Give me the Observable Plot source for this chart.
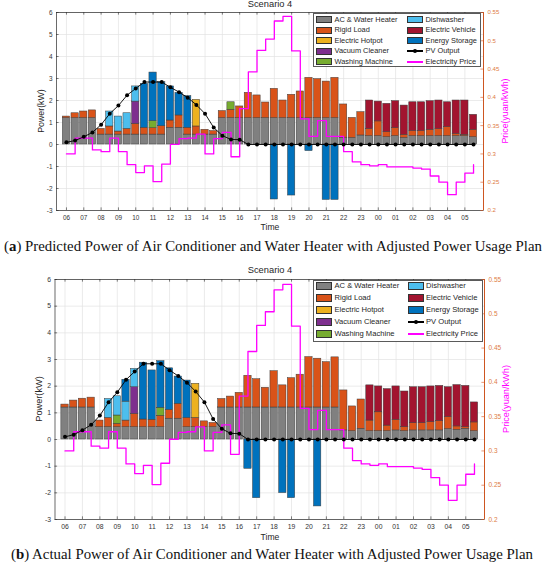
<!DOCTYPE html>
<html><head><meta charset="utf-8">
<script src="https://cdn.jsdelivr.net/npm/d3@7"></script>
<script src="https://cdn.jsdelivr.net/npm/@observablehq/plot@0.6"></script>
<style>
body{margin:0;background:#fff;}
#wrap{position:relative;width:550px;height:568px;overflow:hidden;background:#fff;font-family:"Liberation Sans",Arial,sans-serif;color:#262626;}
#wrap svg{position:absolute;left:0;overflow:visible;}
.t{position:absolute;white-space:nowrap;line-height:1;}
.cap{position:absolute;white-space:nowrap;line-height:1;font-family:"Liberation Serif","Times New Roman",serif;color:#111;}
</style></head><body><div id="wrap"></div>
<script>
// ---------- data ----------
const hours = ["06","07","08","09","10","11","12","13","14","15","16","17","18","19","20","21","22","23","00","01","02","03","04","05"];
const seriesNames = ["AC & Water Heater","Rigid Load","Electric Hotpot","Vacuum Cleaner","Washing Machine","Dishwasher","Electric Vehicle","Energy Storage"];
const seriesColors = ["#808080","#D95319","#EDB120","#7E2F8E","#77AC30","#4DBEEE","#A2142F","#0072BD"];
const priceTicks = [0.2,0.25,0.3,0.35,0.4,0.45,0.5,0.55];
const powerTicks = [-3,-2,-1,0,1,2,3,4,5,6];

const pvOutput = [0.10,0.18,0.35,0.55,0.90,1.40,1.77,2.24,2.55,2.84,2.84,2.84,
  2.60,2.38,2.13,1.80,1.40,0.77,0.40,0.23,0.22,0,0,0,
  0,0,0,0,0,0,0,0,0,0,0,0,
  0,0,0,0,0,0,0,0,0,0,0,0];
const price = [0.300,0.328,0.328,0.307,0.304,0.328,0.304,0.281,0.267,0.279,0.251,0.282,
  0.317,0.327,0.328,0.335,0.300,0.327,0.338,0.295,0.380,0.445,0.483,0.503,
  0.535,0.543,0.482,0.362,0.331,0.359,0.331,0.331,0.304,0.286,0.281,0.279,
  0.281,0.277,0.277,0.277,0.275,0.273,0.261,0.250,0.228,0.250,0.266,0.281];

// Panel (a) predicted
const acA = [1.2,1.2,1.2,1.2,0.45,0.45,0.45,0.45,0.45,0.45,0.45,0.45,
  0.76,0.76,0.45,0.45,0.45,0.45,1.2,1.2,1.2,1.2,1.2,1.2,
  1.2,1.2,1.2,1.2,1.2,1.2,1.2,1.2,0.30,0.30,0.41,0.38,
  0.38,0.33,0.38,0.30,0.38,0.38,0.38,0.38,0.38,0.38,0.38,0.33];
const rigidA = [0.07,0.22,0.30,0.35,0.26,0.37,0.14,0.26,0.49,0.31,0.29,0.38,
  0.33,0.56,0.31,0.37,0.22,0.16,0.32,0.38,0.53,1.15,1.03,0.71,
  1.33,0.80,1.06,1.21,1.83,1.77,1.66,1.83,1.52,0.91,1.06,0.33,
  0.67,0.23,0.36,0.14,0.23,0.23,0.29,0.32,0.41,0.10,0.06,0.34];
const hotpotA = [0,0,0,0,0,0,0,0,0,0,0,0,
  0,0,0,1.21,0,0,0,0,0,0,0,0,
  0,0,0,0,0,0,0,0,0,0,0,0,
  0,0,0,0,0,0,0,0,0,0,0,0];
const vacuumA = [0,0,0,0,0,0,0,0,1.01,0,0,0,
  0,0,0,0,0,0,0,0,0,0,0,0,
  0,0,0,0,0,0,0,0,0,0,0,0,
  0,0,0,0,0,0,0,0,0,0,0,0];
const washingA = [0,0,0,0,0,0,0,0,0,0,0.32,0,
  0,0,0,0,0,0,0,0.34,0,0,0,0,
  0,0,0,0,0,0,0,0,0,0,0,0,
  0,0,0,0,0,0,0,0,0,0,0,0];
const dishA = [0,0,0,0,0,0.68,0.68,0.71,0.69,0,0,0,
  0,0,0,0,0,0,0,0,0,0,0,0,
  0,0,0,0,0,0,0,0,0,0,0,0,
  0,0,0,0,0,0,0,0,0,0,0,0];
const evA = [0,0,0,0,0,0,0,0,0,0,0,0,
  0,0,0,0,0,0,0,0,0,0,0,0,
  0,0,0,0,0,0,0,0,0,0,0,1.29,
  0.90,1.29,1.23,1.33,1.31,1.31,1.30,1.30,1.13,1.52,1.56,0.68];
const storageA = [0,0,0,0,0,0,0,0,0,2.00,2.21,2.00,
  1.55,1.03,1.44,0,0,0,0,0,0,0,0,0,
  -2.50,0,-2.32,0,-0.30,0,-2.52,-2.52,0,0,0,0,
  0,0,0,0,0,0,0,0,0,0,0,0];

// Panel (b) actual
const acB = [1.2,1.2,1.2,1.2,0.46,0.46,0.46,0.46,0.46,0.46,0.46,0.46,
  0.78,0.78,0.46,0.46,0.46,0.46,1.2,1.2,1.2,1.2,1.2,1.2,
  1.2,1.2,1.2,1.2,1.2,1.2,1.2,1.2,0.34,0.31,0.40,0.31,
  0.31,0.31,0.34,0.31,0.34,0.34,0.34,0.34,0.39,0.36,0.40,0.31];
const rigidB = [0.11,0.26,0.33,0.37,0.25,0.35,0.13,0.25,0.50,0.29,0.28,0.43,
  0.33,0.56,0.35,0.35,0.22,0.16,0.32,0.41,0.55,1.19,1.06,0.74,
  1.36,0.83,1.10,1.23,1.89,1.83,1.70,1.88,1.50,0.93,1.10,0.40,
  0.71,0.21,0.40,0.15,0.27,0.27,0.31,0.35,0.45,0.13,0.06,0.33];
const hotpotB = [0,0,0,0,0,0,0,0,0,0,0,0,
  0,0,0,1.28,0,0,0,0,0,0,0,0,
  0,0,0,0,0,0,0,0,0,0,0,0,
  0,0,0,0,0,0,0,0,0,0,0,0];
const vacuumB = [0,0,0,0,0,0,0,0,1.00,0,0,0,
  0,0,0,0,0,0,0,0,0,0,0,0,
  0,0,0,0,0,0,0,0,0,0,0,0,
  0,0,0,0,0,0,0,0,0,0,0,0];
const washingB = [0,0,0,0,0,0,0.31,0,0,0,0,0.30,
  0,0,0,0,0,0,0,0,0,0,0,0,
  0,0,0,0,0,0,0,0,0,0,0,0,
  0,0,0,0,0,0,0,0,0,0,0,0];
const dishB = [0,0,0,0,0,0.71,0.72,0.71,0.69,0,0,0,
  0,0,0,0,0,0,0,0,0,0,0,0,
  0,0,0,0,0,0,0,0,0,0,0,0,
  0,0,0,0,0,0,0,0,0,0,0,0];
const evB = [0,0,0,0,0,0,0,0,0,0,0,0,
  0,0,0,0,0,0,0,0,0,0,0,0,
  0,0,0,0,0,0,0,0,0,0,0,1.32,
  0.97,1.37,1.25,1.34,1.35,1.35,1.34,1.32,1.12,1.55,1.55,0.75];
const storageB = [0,0,0,0,0,0,0,0.82,0,2.13,1.85,1.75,
  1.56,1.02,1.40,0,0,0,0,0,0,-1.10,-2.20,0,
  0,-2.01,-2.20,0,0,-2.51,0,0,0,0,0,0,
  0,0,0,0,0,0,0,0,0,0,0,0];

// ---------- helpers ----------
const slots = d3.range(1, 49);
const hourIdx = hours.map((h, j) => 1 + 2 * j);
const toKW = d3.scaleLinear([0.2, 0.55], [-3, 6]);
const X0 = -0.15, X1 = 49.15;

function stackRects(series) {
  const out = [];
  slots.forEach((s, i) => {
    let pos = 0, neg = 0;
    series.forEach((arr, k) => {
      const v = arr[i];
      if (!v) return;
      if (v > 0) { out.push({s, y1: pos, y2: pos + v, name: seriesNames[k]}); pos += v; }
      else { out.push({s, y1: neg + v, y2: neg, name: seriesNames[k]}); neg += v; }
    });
  });
  return out;
}

function panel(series, o) {
  const rects = stackRects(series);
  const tickLenY = o.tickY, tickLenX = 0.3;
  return Plot.plot({
    width: 550, height: o.height,
    marginTop: o.mt, marginBottom: o.mb, marginLeft: o.ml, marginRight: o.mr,
    style: {fontFamily: "Liberation Sans, Arial, sans-serif", fontSize: o.fs + "px", background: "transparent", color: "#333"},
    x: {domain: [X0, X1], label: null},
    y: {domain: [-3, 6], label: null},
    color: {domain: seriesNames, range: seriesColors},
    marks: [
      Plot.gridY(powerTicks, {stroke: "#e2e2e2", strokeOpacity: 1, strokeWidth: 0.7}),
      Plot.gridX(hourIdx, {stroke: "#e2e2e2", strokeOpacity: 1, strokeWidth: 0.7}),
      Plot.rect(rects, {x1: d => d.s - 0.42, x2: d => d.s + 0.42, y1: "y1", y2: "y2", fill: "name", stroke: "#3c3c3c", strokeWidth: 0.5}),
      Plot.line(slots, {x: d => d, y: d => toKW(price[d - 1]), curve: "step-after", stroke: "#ff00ff", strokeWidth: 1.3}),
      Plot.line(slots, {x: d => d, y: d => pvOutput[d - 1], stroke: "#000", strokeWidth: 0.9}),
      Plot.dot(slots, {x: d => d, y: d => pvOutput[d - 1], r: 2, fill: "#000", stroke: "none"}),
      Plot.frame({stroke: "#2b2b2b", strokeWidth: 0.7}),
      Plot.ruleX([X1], {stroke: "#D95319", strokeWidth: 0.9}),
      // inward tick marks
      Plot.ruleY(powerTicks, {y: d => d, x1: X0, x2: X0 + tickLenX, stroke: "#2b2b2b", strokeWidth: 0.6}),
      Plot.ruleY(priceTicks, {y: d => toKW(d), x1: X1 - tickLenX, x2: X1, stroke: "#D95319", strokeWidth: 0.6}),
      Plot.ruleX(hourIdx, {x: d => d, y1: -3, y2: -3 + tickLenY, stroke: "#2b2b2b", strokeWidth: 0.6}),
      Plot.ruleX(hourIdx, {x: d => d, y1: 6 - tickLenY, y2: 6, stroke: "#2b2b2b", strokeWidth: 0.6}),
      Plot.axisY(powerTicks, {anchor: "left", tickSize: 0, tickPadding: 4, tickFormat: d => String(d), label: null, fontSize: o.fs, color: "#333"}),
      Plot.axisY(priceTicks.map(p => toKW(p)), {anchor: "right", tickSize: 0, tickPadding: 4, tickFormat: d => String(+toKW.invert(d).toFixed(2)), label: null, fontSize: o.fs - 0.3, color: "#DE7C45"}),
      Plot.axisX(hourIdx, {anchor: "bottom", tickSize: 0, tickPadding: o.xpad, tickFormat: d => hours[(d - 1) / 2], label: null, fontSize: o.fs, color: "#333"})
    ]
  });
}

const wrap = document.getElementById("wrap");
function addText(txt, cx, cy, fs, extra) {
  const d = document.createElement("div");
  d.className = "t";
  d.textContent = txt;
  d.style.left = cx + "px"; d.style.top = cy + "px"; d.style.fontSize = fs + "px";
  d.style.transform = "translate(-50%,-50%)" + (extra && extra.rot ? " rotate(-90deg)" : "");
  if (extra && extra.color) d.style.color = extra.color;
  wrap.appendChild(d);
  return d;
}
function addCaption(letter, rest, cy, fs, x0, x1) {
  const d = document.createElement("div");
  d.className = "cap";
  d.style.fontSize = fs + "px";
  d.innerHTML = "(<b>" + letter + "</b>) " + rest;
  wrap.appendChild(d);
  const w = d.getBoundingClientRect().width;
  const h = d.getBoundingClientRect().height;
  const sx = (x1 - x0) / w;
  d.style.left = x0 + "px";
  d.style.top = (cy - h / 2) + "px";
  d.style.transformOrigin = "0 50%";
  d.style.transform = "scaleX(" + sx + ")";
}
function addLegend(c) {
  const box = document.createElement("div");
  box.style.cssText = `position:absolute;left:${c.left}px;top:${c.top}px;width:${c.w}px;height:${c.h}px;border:0.8px solid #5a5a5a;background:#fff;box-sizing:border-box;`;
  wrap.appendChild(box);
  const items = seriesNames.map((n, k) => ({name: n, type: "rect", color: seriesColors[k]}))
    .concat([{name: "PV Output", type: "pv"}, {name: "Electricity Price", type: "price"}]);
  items.forEach((it, j) => {
    const col = Math.floor(j / 5), row = j % 5;
    const cy = c.row0 + row * c.pitch;
    const sx = col ? c.sx2 : c.sx1;
    const tx = col ? c.tx2 : c.tx1;
    if (it.type === "rect") {
      const r = document.createElement("div");
      r.style.cssText = `position:absolute;left:${sx}px;top:${cy - c.sh / 2}px;width:16px;height:${c.sh}px;background:${it.color};border:0.6px solid #333;box-sizing:border-box;`;
      wrap.appendChild(r);
    } else {
      const l = document.createElement("div");
      const col2 = it.type === "pv" ? "#000" : "#ff00ff";
      l.style.cssText = `position:absolute;left:${sx}px;top:${Math.round(cy) - 1}px;width:16px;height:1.6px;background:${col2};`;
      wrap.appendChild(l);
      if (it.type === "pv") {
        const dt = document.createElement("div");
        dt.style.cssText = `position:absolute;left:${sx + 8 - 2}px;top:${Math.round(cy) - 2.2}px;width:4px;height:4px;border-radius:50%;background:#000;`;
        wrap.appendChild(dt);
      }
    }
    const t = document.createElement("div");
    t.className = "t";
    t.textContent = it.name;
    t.style.left = tx + "px"; t.style.top = cy + "px"; t.style.fontSize = c.fs + "px";
    t.style.transform = "translateY(-50%)";
    wrap.appendChild(t);
  });
}

// ---------- panel (a) ----------
const svgA = panel([acA, rigidA, hotpotA, vacuumA, washingA, dishA, evA, storageA],
  {height: 232, mt: 12, mb: 22, ml: 56, mr: 67, fs: 6.4, tickY: 0.12, xpad: 5});
svgA.style.top = "0px";
wrap.appendChild(svgA);
addText("Scenario 4", 270, 5, 9.3);
addText("Power(kW)", 41, 111, 8.8, {rot: true});
addText("Price(yuan/kWh)", 505, 111, 8.8, {rot: true, color: "#ff00ff"});
addText("Time", 270, 226.5, 8.6);
addLegend({left: 313, top: 13, w: 168, h: 54, row0: 19.5, pitch: 10.5, sx1: 316, sx2: 407, tx1: 334.5, tx2: 425.5, sh: 7, fs: 7.4});
addCaption("a", "Predicted Power of Air Conditioner and Water Heater with Adjusted Power Usage Plan", 247, 13.8, 3.5, 541.5);

// ---------- panel (b) ----------
const svgB = panel([acB, rigidB, hotpotB, vacuumB, washingB, dishB, evB, storageB],
  {height: 279, mt: 17, mb: 22, ml: 54.5, mr: 66, fs: 6.8, tickY: 0.1, xpad: 5});
svgB.style.top = "262px";
wrap.appendChild(svgB);
addText("Scenario 4", 270, 270.5, 9.3);
addText("Power(kW)", 40, 399, 9.2, {rot: true});
addText("Price(yuan/kWh)", 506.5, 399, 9.2, {rot: true, color: "#ff00ff"});
addText("Time", 270, 537, 8.6);
addLegend({left: 313, top: 279.5, w: 170, h: 62, row0: 286, pitch: 12.1, sx1: 315.5, sx2: 407.5, tx1: 334.5, tx2: 426, sh: 8, fs: 7.6});
addCaption("b", "Actual Power of Air Conditioner and Water Heater with Adjusted Power Usage Plan", 555, 13.8, 11, 533);
</script></body></html>
